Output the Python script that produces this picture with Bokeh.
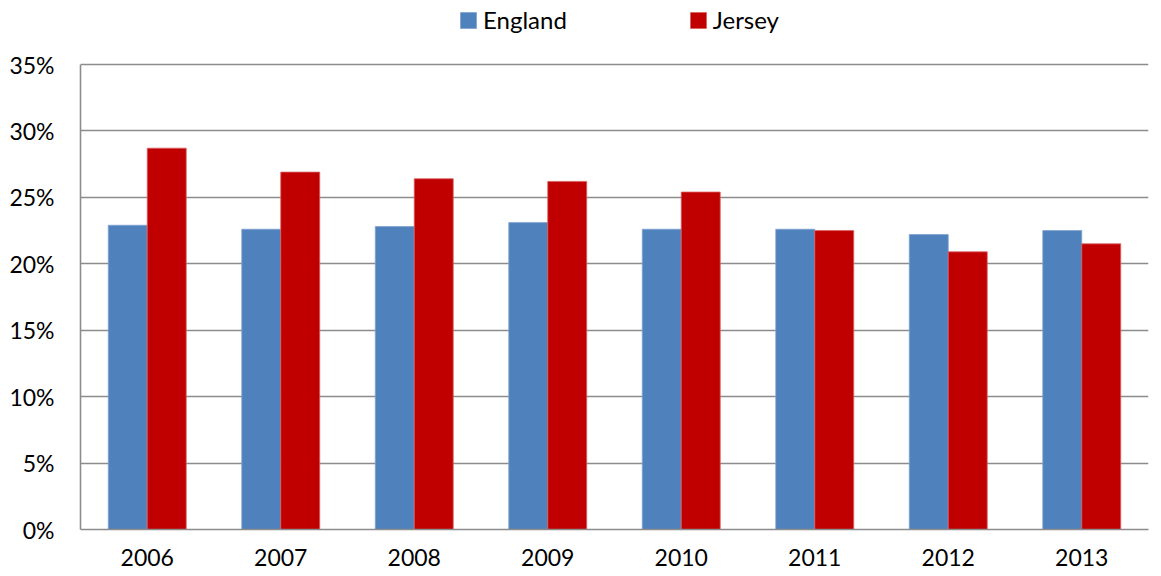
from bokeh.plotting import figure
from bokeh.models import FactorRange, Range1d, Legend, LegendItem, ColumnDataSource, FixedTicker, PrintfTickFormatter
from bokeh.transform import dodge
from bokeh.embed import file_html
from bokeh.resources import INLINE

years = ["2006", "2007", "2008", "2009", "2010", "2011", "2012", "2013"]
england = [22.9, 22.6, 22.8, 23.1, 22.6, 22.6, 22.2, 22.5]
jersey = [28.7, 26.9, 26.4, 26.2, 25.4, 22.5, 20.9, 21.5]
series_names = ["England", "Jersey"]
y_ticks = [0, 5, 10, 15, 20, 25, 30, 35]

FONT = "Lato"
src = ColumnDataSource(dict(year=years, england=england, jersey=jersey))

# frame extends above the 35% line to leave room for the legend inside it
FRAME_H = 529
PLOT_H = 465
y_top = 35 * FRAME_H / PLOT_H

p = figure(x_range=FactorRange(factors=years, range_padding=0), y_range=Range1d(0, y_top),
           width=1149, height=570, output_backend="svg", toolbar_location=None,
           min_border_left=80, min_border_right=1, min_border_top=0, min_border_bottom=41)
p.outline_line_color = None
p.background_fill_color = "white"

bw = 0.292
r1 = p.vbar(x=dodge("year", -bw / 2, range=p.x_range), top="england", width=bw, source=src,
            fill_color="#4F81BD", line_color="#7FA3CF", line_width=0.8)
r2 = p.vbar(x=dodge("year", bw / 2, range=p.x_range), top="jersey", width=bw, source=src,
            fill_color="#C00000", line_color="#D96060", line_width=0.8)

p.xgrid.grid_line_color = None
p.ygrid.grid_line_color = "#8C8C8C"
p.ygrid.grid_line_width = 1.6
p.yaxis.ticker = FixedTicker(ticks=y_ticks)
p.yaxis.formatter = PrintfTickFormatter(format="%d%%")
p.yaxis.bounds = (0, 35)

for ax in (p.xaxis, p.yaxis):
    ax.axis_line_color = "#8C8C8C"
    ax.axis_line_width = 1.6
    ax.major_tick_line_color = None
    ax.minor_tick_line_color = None
    ax.major_label_text_font = FONT
    ax.major_label_text_font_size = "23px"
    ax.major_label_text_color = "#000000"
p.yaxis.major_label_standoff = 20
p.xaxis.major_label_standoff = 13

legend = Legend(items=[LegendItem(label=series_names[0], renderers=[r1]),
                       LegendItem(label=series_names[1], renderers=[r2])],
                orientation="horizontal", location=(378, FRAME_H - 34),
                glyph_width=20, glyph_height=20, label_standoff=5,
                spacing=121, padding=0, margin=0,
                label_text_font=FONT, label_text_font_size="24px", label_text_color="#000000",
                background_fill_alpha=0, border_line_color=None)
p.add_layout(legend, "center")

open("out.html", "w").write(file_html(p, INLINE))
